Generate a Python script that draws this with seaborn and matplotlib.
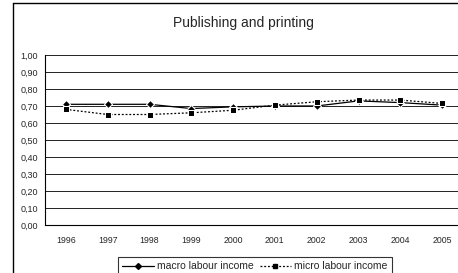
import matplotlib
matplotlib.use("Agg")
import matplotlib.pyplot as plt
import seaborn as sns
import pandas as pd
from matplotlib.lines import Line2D

years = ["1996", "1997", "1998", "1999", "2000", "2001", "2002", "2003", "2004", "2005"]
macro = [0.71, 0.71, 0.71, 0.685, 0.695, 0.70, 0.70, 0.73, 0.72, 0.705]
micro = [0.68, 0.65, 0.65, 0.66, 0.675, 0.705, 0.725, 0.735, 0.735, 0.715]
yticks = [0.0, 0.1, 0.2, 0.3, 0.4, 0.5, 0.6, 0.7, 0.8, 0.9, 1.0]
title = "Publishing and printing"
names = ["macro labour income", "micro labour income"]

sns.set_style("white")
plt.rcParams['font.family'] = ['Liberation Sans', 'DejaVu Sans']

df = pd.DataFrame({"x": list(range(len(years))) * 2,
                   "y": macro + micro,
                   "series": [names[0]] * len(years) + [names[1]] * len(years)})

fig = plt.figure(figsize=(4.58, 2.73), dpi=100)
ax = fig.add_axes([45/458, 1 - 225/273, 418/458, 170/273])

sns.lineplot(data=df, x="x", y="y", hue="series", style="series",
             palette={names[0]: "black", names[1]: "black"},
             markers={names[0]: "D", names[1]: "s"},
             dashes={names[0]: "", names[1]: (1.5, 1.5)},
             markersize=3.8, linewidth=0.9, ax=ax, legend=False)

ax.set_xlim(-0.5, len(years) - 0.5)
ax.set_ylim(0, 1.0)
ax.set_yticks(yticks)
ax.set_yticklabels([f"{v:.2f}".replace(".", ",") for v in yticks], fontsize=6.5)
ax.yaxis.grid(True, color="#222222", linewidth=0.7)
ax.set_axisbelow(True)

ax.set_xticks([i - 0.5 for i in range(len(years) + 1)])
ax.set_xticklabels([])
ax.set_xticks(range(len(years)), minor=True)
ax.set_xticklabels(years, minor=True, fontsize=6.3)
ax.tick_params(axis="x", which="major", direction="out", length=3, width=0.8, color="black")
ax.tick_params(axis="x", which="minor", length=0, pad=8)
ax.tick_params(axis="y", direction="out", length=3, width=0.8, color="black", pad=2)
ax.set_xlabel("")
ax.set_ylabel("")
for s in ["top", "right"]:
    ax.spines[s].set_visible(False)
for s in ["left", "bottom"]:
    ax.spines[s].set_color("black")
    ax.spines[s].set_linewidth(0.8)

fig.text(243/458, 1 - 23/273, title, ha="center", va="center", fontsize=10)

handles = [Line2D([], [], color="black", marker="D", markersize=3, linewidth=0.9),
           Line2D([], [], color="black", marker="s", markersize=3, linewidth=0.9, linestyle=(0, (1.5, 1.5)))]
leg = fig.legend(handles, names, loc="upper center", bbox_to_anchor=(255/458, 1 - 252/273),
                 ncol=2, fontsize=7.5, frameon=True, fancybox=False, edgecolor="black",
                 handlelength=3, columnspacing=0.6, handletextpad=0.3, borderpad=0.4)
leg.get_frame().set_linewidth(0.8)

fig.add_artist(Line2D([13/458, 13/458], [0, 1 - 3/273], color="black", linewidth=1, transform=fig.transFigure))
fig.add_artist(Line2D([13/458, 1], [1 - 3/273, 1 - 3/273], color="black", linewidth=1, transform=fig.transFigure))

fig.savefig("out.png", dpi=100)
